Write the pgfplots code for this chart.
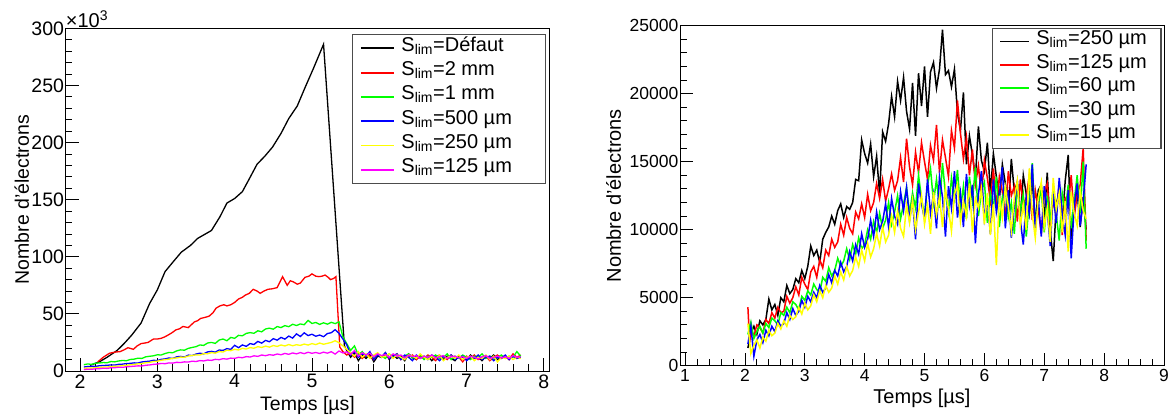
\documentclass[border=0pt]{standalone}
\usepackage{fontspec}
\setmainfont{Liberation Sans}
\usepackage{pgfplots}
\pgfplotsset{compat=1.18}
\definecolor{rred}{RGB}{255,0,0}
\definecolor{rgreen}{RGB}{0,255,0}
\definecolor{rblue}{RGB}{0,0,255}
\definecolor{ryellow}{RGB}{255,255,0}
\definecolor{rmagenta}{RGB}{255,0,255}
\newcommand{\Slim}{S\textsubscript{lim}}
\pgfplotsset{rootstyle/.style={
  scale only axis, anchor=south west, clip mode=individual,
  axis line style={line width=0.9pt},
  tick align=inside, tick pos=left,
  major tick length=13pt, minor tick length=6.5pt,
  every tick/.style={black, line width=0.8pt},
  minor x tick num=4, minor y tick num=4,
  /pgf/number format/assume math mode=true,
  /pgf/number format/1000 sep={},
  legend cell align=left,
  every axis x label/.style={at={(rel axis cs:0.5,0)}, anchor=center},
  every axis y label/.style={at={(rel axis cs:0,0.5)}, anchor=center, rotate=90},
}}
\begin{document}
\begin{tikzpicture}
\useasboundingbox (0,0) rectangle (1170pt,415pt);
% ---------------- left panel ----------------
\begin{axis}[rootstyle,
  at={(65.7pt,44pt)}, width=483.6pt, height=342.7pt,
  xmin=1.815, xmax=8.07, ymin=0, ymax=300,
  xtick={2,3,...,8}, ytick={0,50,...,300},
  tick label style={font=\fontsize{19.5}{20}\selectfont},
  yticklabel style={inner xsep=1.5pt},
  xlabel={Temps [µs]}, ylabel={Nombre d'électrons},
  label style={font=\fontsize{19.5}{20}\selectfont},
  xlabel style={yshift=-34pt}, ylabel style={yshift=44pt},
  legend image code/.code={\draw[#1, line width=1.8pt] (0pt,0pt) -- (33pt,0pt);},
  legend style={at={(0.9926,0.983)}, anchor=north east, draw=black!70, line width=1.2pt,
    inner xsep=7.7pt, inner ysep=1.5pt, font=\fontsize{20}{20}\selectfont,
    nodes={inner xsep=0pt, inner ysep=0pt, text height=15pt, text depth=9.3pt},
    /tikz/every odd column/.append style={column sep=6.7pt}},
]
\addplot[black, line width=1.3pt] table {
x y
2.13 5
2.25 8
2.35 12
2.48 18
2.57 24
2.67 31.5
2.79 42
2.9 59
3.0 71
3.1 87
3.21 96
3.31 104
3.43 110
3.52 116
3.7 123
3.81 135
3.9 147
4.0 151
4.1 157
4.18 167
4.29 181
4.39 188
4.49 196
4.6 208
4.7 221
4.81 232
4.91 248
5.02 265
5.15 286
5.42 22
5.45 18
5.5 12
5.55 16
5.6 9
5.65 14
5.7 11
5.75 15
5.8 8
5.85 13
5.9 12
5.95 16
6.0 10
6.05 14
6.1 11
6.15 13
6.2 9
6.25 15
6.3 12
6.35 10
6.4 14
6.45 11
6.5 13
6.55 9
6.6 12
6.65 14
6.7 10
6.75 13
6.8 11
6.85 9
6.9 13
6.95 12
7.0 10
7.05 14
7.1 11
7.15 12
7.2 9
7.25 13
7.3 11
7.35 14
7.4 10
7.45 12
7.5 13
7.55 10
7.6 14
7.65 11
7.7 12
};
\addlegendentry{\makebox[136pt][l]{\Slim=Défaut}}
\addplot[rred, line width=1.3pt] table {
x y
2.23 8
2.3 12
2.38 15.5
2.45 16.5
2.52 17
2.57 18.5
2.62 20.4
2.69 19
2.74 22
2.79 24
2.84 24.5
2.88 25
2.95 28
3.0 28
3.05 28.6
3.1 30
3.14 31.5
3.19 33.5
3.24 36
3.29 37
3.33 39
3.4 38
3.44 40.5
3.48 43
3.52 44
3.56 46
3.62 47
3.67 48
3.72 51
3.76 55
3.81 57
3.86 58
3.9 57
3.95 58
4.0 60
4.05 63
4.1 64.5
4.14 66.5
4.19 68
4.24 71.5
4.29 70
4.33 68
4.38 70
4.43 71.5
4.49 72
4.55 73
4.62 82.6
4.68 75
4.72 79
4.76 78
4.81 76
4.85 77
4.91 82
4.96 83
5.0 85
5.05 83
5.09 82.6
5.13 83
5.17 84
5.21 82
5.24 80
5.28 81
5.31 82.6
5.36 21
5.4 17
5.45 14
5.5 16
5.55 12
5.6 15
5.65 11
5.7 14
5.75 13
5.8 10
5.85 15
5.9 12
5.95 14
6.0 11
6.05 13
6.1 15
6.15 10
6.2 13
6.25 12
6.3 14
6.35 10
6.4 13
6.45 11
6.5 14
6.55 12
6.6 9
6.65 13
6.7 12
6.75 10
6.8 14
6.85 11
6.9 12
6.95 8
7.0 13
7.05 11
7.1 14
7.15 10
7.2 12
7.25 13
7.3 9
7.35 12
7.4 14
7.45 11
7.5 13
7.55 10
7.6 15
7.65 12
7.7 14
};
\addlegendentry{\makebox[136pt][l]{\Slim=2 mm}}
\addplot[rgreen, line width=1.3pt] table {
x y
2.05 5.5
2.1 6.2
2.15 5.8
2.2 6.8
2.25 7.0
2.3 7.4
2.35 7.2
2.4 8.3
2.45 8.0
2.5 8.8
2.55 9.2
2.6 9.0
2.65 10.1
2.7 10.4
2.75 11.2
2.8 11.0
2.85 12.4
2.9 12.9
2.95 13.3
3.0 14.2
3.05 14.0
3.1 15.3
3.15 16.2
3.2 16.0
3.25 17.6
3.3 18.5
3.35 18.2
3.4 19.8
3.45 20.6
3.5 21.3
3.55 22.8
3.6 22.4
3.65 24.5
3.7 25.0
3.75 24.2
3.8 27.1
3.85 28.0
3.9 26.5
3.95 29.4
4.0 28.6
4.05 31.2
4.1 30.8
4.15 32.9
4.2 33.6
4.25 33.0
4.3 35.2
4.35 34.3
4.4 36.8
4.45 37.5
4.5 36.6
4.55 38.9
4.6 38.0
4.65 39.7
4.7 38.8
4.75 40.9
4.8 39.8
4.85 41.2
4.9 40.5
4.95 44.3
5.0 41.6
5.05 42.5
5.1 40.8
5.15 42.2
5.2 41.0
5.25 42.6
5.3 41.5
5.35 43.0
5.4 30
5.45 24
5.5 18
5.55 22
5.6 14
5.65 17
5.7 13
5.75 16
5.8 12
5.85 15
5.9 13
5.95 11
6.0 15
6.05 12
6.1 14
6.15 11
6.2 13
6.25 15
6.3 11
6.35 12
6.4 14
6.45 10
6.5 13
6.55 12
6.6 14
6.65 11
6.7 12
6.75 15
6.8 10
6.85 13
6.9 11
6.95 14
7.0 12
7.05 10
7.1 13
7.15 12
7.2 15
7.25 11
7.3 13
7.35 10
7.4 12
7.45 14
7.5 11
7.55 13
7.6 12
7.65 17
7.7 13
};
\addlegendentry{\makebox[136pt][l]{\Slim=1 mm}}
\addplot[rblue, line width=1.3pt] table {
x y
2.05 3.5
2.1 3.9
2.15 4.1
2.2 4.0
2.25 4.6
2.3 4.8
2.35 5.0
2.4 5.3
2.45 5.2
2.5 5.8
2.55 6.0
2.6 6.5
2.65 6.7
2.7 7.1
2.75 7.0
2.8 7.9
2.85 8.3
2.9 8.6
2.95 9.4
3.0 9.1
3.05 10.2
3.1 10.6
3.15 11.4
3.2 11.0
3.25 12.4
3.3 12.8
3.35 12.2
3.4 13.9
3.45 13.5
3.5 14.8
3.55 15.6
3.6 15.0
3.65 16.7
3.7 17.2
3.75 16.5
3.8 18.4
3.85 18.0
3.9 19.6
3.95 18.9
4.0 22.5
4.05 20.4
4.1 22.8
4.15 21.6
4.2 24.0
4.25 23.2
4.3 25.9
4.35 24.4
4.4 26.8
4.45 25.6
4.5 28.3
4.55 27.0
4.6 29.4
4.65 27.9
4.7 30.6
4.75 28.8
4.8 32.5
4.85 30.2
4.9 33.4
4.95 31.0
5.0 32.2
5.05 30.4
5.1 31.5
5.15 30.0
5.2 32.8
5.25 33.5
5.3 36.2
5.35 33.0
5.4 28
5.45 23
5.5 14
5.55 17
5.6 12
5.65 15
5.7 13
5.75 17
5.8 10
5.85 14
5.9 12
5.95 16
6.0 11
6.05 13
6.1 15
6.15 10
6.2 14
6.25 12
6.3 9
6.35 14
6.4 11
6.45 13
6.5 10
6.55 14
6.6 12
6.65 9
6.7 13
6.75 11
6.8 14
6.85 10
6.9 12
6.95 13
7.0 9
7.05 12
7.1 11
7.15 14
7.2 10
7.25 12
7.3 13
7.35 9
7.4 12
7.45 11
7.5 14
7.55 10
7.6 13
7.65 11
7.7 12
};
\addlegendentry{\makebox[136pt][l]{\Slim=500 µm}}
\addplot[ryellow, line width=1.3pt] table {
x y
2.05 2.2
2.1 2.6
2.15 2.5
2.2 3.0
2.25 3.1
2.3 3.4
2.35 3.5
2.4 3.9
2.45 4.1
2.5 4.3
2.55 4.8
2.6 5.0
2.65 5.4
2.7 5.7
2.75 6.3
2.8 6.5
2.85 7.2
2.9 7.5
2.95 8.3
3.0 8.6
3.05 9.4
3.1 9.9
3.15 10.3
3.2 11.1
3.25 11.4
3.3 12.2
3.35 12.0
3.4 13.1
3.45 13.6
3.5 14.1
3.55 14.0
3.6 15.2
3.65 15.0
3.7 16.1
3.75 15.6
3.8 17.0
3.85 16.6
3.9 18.2
3.95 17.8
4.0 19.0
4.05 18.4
4.1 19.8
4.15 19.2
4.2 20.5
4.25 19.9
4.3 21.3
4.35 20.6
4.4 21.8
4.45 20.9
4.5 22.3
4.55 21.5
4.6 22.8
4.65 21.9
4.7 23.2
4.75 22.1
4.8 23.0
4.85 22.4
4.9 23.6
4.95 22.7
5.0 24.0
5.05 23.1
5.1 24.5
5.15 23.4
5.2 24.2
5.25 25.0
5.3 26.5
5.35 24.8
5.4 22
5.45 19
5.5 16
5.55 13
5.6 17
5.65 12
5.7 15
5.75 11
5.8 14
5.85 16
5.9 12
5.95 13
6.0 15
6.05 11
6.1 14
6.15 12
6.2 10
6.25 14
6.3 13
6.35 11
6.4 15
6.45 12
6.5 10
6.55 13
6.6 11
6.65 14
6.7 9
6.75 12
6.8 13
6.85 11
6.9 14
6.95 10
7.0 12
7.05 13
7.1 9
7.15 12
7.2 11
7.25 14
7.3 10
7.35 13
7.4 8
7.45 12
7.5 11
7.55 13
7.6 10
7.65 12
7.7 11
};
\addlegendentry{\makebox[136pt][l]{\Slim=250 µm}}
\addplot[rmagenta, line width=1.3pt] table {
x y
2.05 1.2
2.1 1.6
2.15 1.5
2.2 1.9
2.25 2.0
2.3 2.4
2.35 2.3
2.4 2.8
2.45 2.9
2.5 3.3
2.55 3.2
2.6 3.7
2.65 3.9
2.7 4.2
2.75 4.5
2.8 4.4
2.85 5.0
2.9 5.3
2.95 5.8
3.0 6.1
3.05 6.6
3.1 6.4
3.15 7.1
3.2 6.9
3.25 7.6
3.3 7.4
3.35 8.0
3.4 7.8
3.45 8.6
3.5 8.3
3.55 9.1
3.6 8.8
3.65 9.6
3.7 9.3
3.75 10.2
3.8 9.9
3.85 10.8
3.9 10.4
3.95 11.3
4.0 11.0
4.05 12.0
4.1 11.6
4.15 12.6
4.2 12.2
4.25 13.3
4.3 12.8
4.35 14.0
4.4 13.4
4.45 14.3
4.5 13.8
4.55 14.9
4.6 14.2
4.65 15.4
4.7 14.6
4.75 15.8
4.8 15.0
4.85 16.1
4.9 15.2
4.95 16.4
5.0 15.5
5.05 16.2
5.1 15.3
5.15 16.5
5.2 15.6
5.25 16.9
5.3 14.8
5.35 17.5
5.4 15.8
5.45 16.8
5.5 14.5
5.55 18
5.6 13
5.65 16
5.7 14
5.75 15.5
5.8 12.5
5.85 15
5.9 13.5
5.95 14.5
6.0 12
6.05 15
6.1 13
6.15 14
6.2 11.5
6.25 14
6.3 12.5
6.35 13.5
6.4 11
6.45 13
6.5 12
6.55 14
6.6 11.5
6.65 12.5
6.7 13.5
6.75 11
6.8 12.5
6.85 13
6.9 11.5
6.95 12.5
7.0 11
7.05 13
7.1 12
7.15 10.5
7.2 12.5
7.25 13.5
7.3 11
7.35 12
7.4 13
7.45 11.5
7.5 12.5
7.55 11
7.6 13.5
7.65 12
7.7 12.5
};
\addlegendentry{\makebox[136pt][l]{\Slim=125 µm}}
\node[anchor=south west, inner sep=0pt, font=\fontsize{20}{20}\selectfont] at (rel axis cs:0,1) {×10\textsuperscript{3}};
\end{axis}
% ---------------- right panel ----------------
\begin{axis}[rootstyle,
  at={(680pt,49.3pt)}, width=484pt, height=340pt,
  xmin=0.916, xmax=9, ymin=0, ymax=25000,
  xtick={1,2,...,9}, ytick={0,5000,...,25000},
  tick label style={font=\fontsize{17.5}{18}\selectfont},
  yticklabel style={inner xsep=1.5pt},
  scaled y ticks=false,
  xlabel={Temps [µs]}, ylabel={Nombre d'électrons},
  label style={font=\fontsize{20}{20}\selectfont},
  xlabel style={yshift=-32.5pt}, ylabel style={yshift=66.4pt},
  legend image code/.code={\draw[#1, line width=1.8pt] (0pt,0pt) -- (28.3pt,0pt);},
  legend style={at={(0.9952,0.9941)}, anchor=north east, draw=black!70, line width=1.2pt,
    inner xsep=6.7pt, inner ysep=1.5pt, font=\fontsize{20}{20}\selectfont,
    nodes={inner xsep=0pt, inner ysep=0pt, text height=15pt, text depth=8.4pt},
    /tikz/every odd column/.append style={column sep=6.7pt}},
]
\addplot[black, line width=1.5pt] table {
x y
2.05 1300
2.10 2400
2.15 2900
2.20 2300
2.25 3300
2.30 3000
2.35 3400
2.40 4900
2.45 4100
2.50 4500
2.55 3700
2.60 5000
2.65 4700
2.70 5900
2.75 5300
2.80 5600
2.85 6400
2.90 6100
2.95 7000
3.00 6400
3.05 7300
3.10 8800
3.15 8100
3.20 8500
3.25 7600
3.30 9300
3.35 9800
3.40 10200
3.45 11000
3.50 10400
3.55 11400
3.60 11900
3.65 10900
3.70 11700
3.75 11500
3.80 12000
3.85 13700
3.90 13600
3.95 16600
4.00 15600
4.05 14900
4.10 16300
4.15 13900
4.20 15400
4.25 12600
4.30 17200
4.35 16500
4.40 17800
4.45 19800
4.50 18300
4.55 20900
4.60 19500
4.65 21200
4.70 18700
4.75 17400
4.80 20800
4.85 16900
4.90 21500
4.95 19100
5.00 22000
5.05 18300
5.10 21600
5.15 22300
5.20 20400
5.25 21800
5.30 24700
5.35 21400
5.40 21700
5.45 20500
5.50 21800
5.55 18600
5.60 17300
5.65 20100
5.70 14800
5.75 16900
5.80 15500
5.85 13800
5.90 17600
5.95 15100
6.00 14300
6.05 16400
6.10 12700
6.15 15600
6.20 13900
6.25 12200
6.30 14800
6.35 13400
6.40 11300
6.45 15200
6.50 12800
6.55 13500
6.60 10900
6.65 14000
6.70 12600
6.75 11200
6.80 13700
6.85 10400
6.90 12900
6.95 13300
7.00 10800
7.05 14200
7.10 9900
7.15 7700
7.20 11800
7.25 12900
7.30 10500
7.35 13600
7.40 15500
7.45 9300
7.50 11900
7.55 12800
7.60 10200
7.65 12400
7.70 10000
};
\addlegendentry{\makebox[118pt][l]{\Slim=250 µm}}
\addplot[rred, line width=1.5pt] table {
x y
2.05 4300
2.08 1700
2.10 2600
2.15 2200
2.20 3000
2.25 2800
2.30 2400
2.35 3400
2.40 3100
2.45 3900
2.50 3500
2.55 4300
2.60 3900
2.65 4000
2.70 5100
2.75 4600
2.80 5000
2.85 5800
2.90 5200
2.95 6500
3.00 6000
3.05 5600
3.10 6900
3.15 7300
3.20 6500
3.25 7800
3.30 7200
3.35 8500
3.40 8100
3.45 9300
3.50 8700
3.55 9100
3.60 10400
3.65 9600
3.70 10900
3.75 10100
3.80 9700
3.85 11300
3.90 10800
3.95 11900
4.00 10900
4.05 12600
4.10 11400
4.15 12000
4.20 13400
4.25 12300
4.30 13700
4.35 12100
4.40 13000
4.45 14100
4.50 12900
4.55 13600
4.60 15300
4.65 13500
4.70 16700
4.75 14600
4.80 13300
4.85 15700
4.90 14200
4.95 16400
5.00 15000
5.05 13700
5.10 16200
5.15 15100
5.20 17700
5.25 14200
5.30 16600
5.35 15300
5.40 13900
5.45 17300
5.50 16000
5.55 19500
5.60 17100
5.65 15200
5.70 16800
5.75 14000
5.80 15900
5.85 13300
5.90 14700
5.95 12500
6.00 15100
6.05 13800
6.10 12100
6.15 14500
6.20 11700
6.25 13900
6.30 12800
6.35 10900
6.40 14300
6.45 12500
6.50 13200
6.55 10600
6.60 13700
6.65 11800
6.70 12400
6.75 14000
6.80 10700
6.85 12900
6.90 11500
6.95 9700
7.00 12700
7.05 13400
7.10 10500
7.15 12100
7.20 11000
7.25 13500
7.30 9600
7.35 12300
7.40 11700
7.45 14000
7.50 10900
7.55 12600
7.60 13300
7.65 16000
7.70 9200
};
\addlegendentry{\makebox[118pt][l]{\Slim=125 µm}}
\addplot[rgreen, line width=1.5pt] table {
x y
2.05 2300
2.10 3200
2.15 2000
2.20 2500
2.25 2900
2.30 2400
2.35 3100
2.40 2800
2.45 3500
2.50 3300
2.55 3000
2.60 3900
2.65 3700
2.70 4300
2.75 3900
2.80 4700
2.85 4500
2.90 4100
2.95 5100
3.00 4800
3.05 5500
3.10 5200
3.15 6000
3.20 5600
3.25 5400
3.30 6500
3.35 6200
3.40 7200
3.45 6600
3.50 7000
3.55 7900
3.60 7300
3.65 7700
3.70 8600
3.75 7800
3.80 8900
3.85 8200
3.90 9400
3.95 8600
4.00 8900
4.05 10000
4.10 9300
4.15 10600
4.20 9800
4.25 11200
4.30 10100
4.35 10700
4.40 12000
4.45 10400
4.50 11300
4.55 12500
4.60 10800
4.65 11900
4.70 13100
4.75 11200
4.80 12700
4.85 11600
4.90 14000
4.95 12300
5.00 11000
5.05 13300
5.10 14500
5.15 12000
5.20 13700
5.25 11600
5.30 14900
5.35 12600
5.40 11300
5.45 13800
5.50 12300
5.55 14400
5.60 11500
5.65 13200
5.70 10800
5.75 13900
5.80 12100
5.85 14600
5.90 11000
5.95 12800
6.00 13500
6.05 10500
6.10 12700
6.15 11600
6.20 13900
6.25 10200
6.30 12400
6.35 13100
6.40 10900
6.45 12000
6.50 9700
6.55 13300
6.60 11400
6.65 12600
6.70 9500
6.75 12200
6.80 14900
6.85 10300
6.90 11800
6.95 13000
7.00 9800
7.05 12500
7.10 10600
7.15 13200
7.20 11100
7.25 9200
7.30 12700
7.35 11300
7.40 13300
7.45 10100
7.50 12100
7.55 14000
7.60 11200
7.65 15000
7.70 8600
};
\addlegendentry{\makebox[118pt][l]{\Slim=60 µm}}
\addplot[rblue, line width=1.5pt] table {
x y
2.05 1600
2.10 2900
2.15 700
2.20 1900
2.25 2300
2.30 1700
2.35 2600
2.40 2200
2.45 2900
2.50 2500
2.55 3300
2.60 2900
2.65 3100
2.70 3900
2.75 3400
2.80 4200
2.85 3700
2.90 4000
2.95 4800
3.00 4300
3.05 5100
3.10 4700
3.15 5400
3.20 5000
3.25 5900
3.30 5400
3.35 5700
3.40 6700
3.45 6100
3.50 7000
3.55 6600
3.60 7600
3.65 6900
3.70 7300
3.75 8400
3.80 7700
3.85 8900
3.90 8200
3.95 9700
4.00 8700
4.05 9300
4.10 10700
4.15 9500
4.20 11300
4.25 10000
4.30 10600
4.35 11900
4.40 10200
4.45 12300
4.50 11000
4.55 10400
4.60 12800
4.65 11400
4.70 13100
4.75 10700
4.80 12200
4.85 9300
4.90 13400
4.95 11900
5.00 10800
5.05 13700
5.10 11200
5.15 12600
5.20 10100
5.25 13900
5.30 12400
5.35 9500
5.40 13200
5.45 11600
5.50 14300
5.55 10900
5.60 12700
5.65 10200
5.70 14100
5.75 11800
5.80 13300
5.85 9000
5.90 12600
5.95 14300
6.00 10800
6.05 12200
6.10 9700
6.15 13700
6.20 11300
6.25 12600
6.30 14600
6.35 10100
6.40 12900
6.45 9400
6.50 11800
6.55 13500
6.60 10700
6.65 8900
6.70 12400
6.75 11200
6.80 14800
6.85 10000
6.90 12300
6.95 9500
7.00 13200
7.05 11400
7.10 8800
7.15 12700
7.20 10500
7.25 13800
7.30 11100
7.35 9600
7.40 12900
7.45 7900
7.50 11700
7.55 13400
7.60 10300
7.65 12100
7.70 14800
};
\addlegendentry{\makebox[118pt][l]{\Slim=30 µm}}
\addplot[ryellow, line width=1.5pt] table {
x y
2.05 3100
2.10 900
2.15 1500
2.20 1900
2.25 1300
2.30 2100
2.35 1800
2.40 2600
2.45 2200
2.50 2400
2.55 3100
2.60 2700
2.65 3300
2.70 2900
2.75 3700
2.80 3400
2.85 3600
2.90 4300
2.95 3800
3.00 4600
3.05 4100
3.10 4400
3.15 5200
3.20 4700
3.25 5500
3.30 5000
3.35 5900
3.40 5400
3.45 5700
3.50 6600
3.55 6000
3.60 6900
3.65 6300
3.70 7300
3.75 6600
3.80 7000
3.85 8000
3.90 7300
3.95 8500
4.00 7700
4.05 9000
4.10 8000
4.15 8600
4.20 9700
4.25 8800
4.30 10200
4.35 9100
4.40 9600
4.45 11000
4.50 9800
4.55 11400
4.60 10100
4.65 9500
4.70 11800
4.75 10500
4.80 12200
4.85 10000
4.90 11300
4.95 12500
5.00 10400
5.05 11800
5.10 9700
5.15 12800
5.20 11100
5.25 12400
5.30 10200
5.35 13000
5.40 11500
5.45 9900
5.50 12600
5.55 13300
5.60 10600
5.65 12100
5.70 11000
5.75 13400
5.80 9800
5.85 12300
5.90 11600
5.95 13000
6.00 10400
6.05 12700
6.10 9600
6.15 11900
6.20 7400
6.25 12500
6.30 10900
6.35 13100
6.40 11700
6.45 9900
6.50 12300
6.55 13600
6.60 10300
6.65 11800
6.70 10000
6.75 14500
6.80 11100
6.85 9400
6.90 12400
6.95 13500
7.00 10200
7.05 11600
7.10 9100
7.15 13800
7.20 11500
7.25 12700
7.30 9800
7.35 12100
7.40 8400
7.45 12800
7.50 11200
7.55 10300
7.60 12900
7.65 11400
7.70 10800
};
\addlegendentry{\makebox[118pt][l]{\Slim=15 µm}}
\end{axis}
\end{tikzpicture}
\end{document}
